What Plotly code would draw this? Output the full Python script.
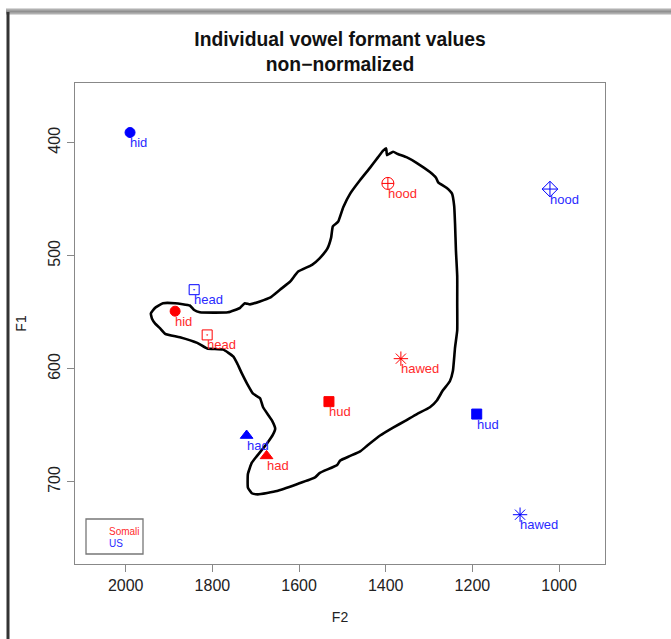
import plotly.graph_objects as go

# ---- data ----
vowels = ["hid", "head", "had", "hud", "hawed", "hood"]
somali_f2 = [1886, 1812, 1675, 1531, 1365, 1395]
somali_f1 = [549, 570, 677, 629, 591, 436]
us_f2 = [1990, 1842, 1721, 1190, 1090, 1021]
us_f1 = [391, 530, 659, 640, 729, 441]

somali_symbols = ["circle", "square-open-dot", "triangle-up", "square", "asterisk-open", "circle-cross-open"]
us_symbols = ["circle", "square-open-dot", "triangle-up", "square", "asterisk-open", "diamond-cross-open"]
symbol_sizes = [10, 10, 11, 10, 12, 12]

# hand-drawn region outline (F2, F1)
outline_f2 = [1942, 1932, 1914, 1886, 1852, 1842, 1829, 1764, 1736, 1725, 1713, 1667, 1644, 1621,
              1602, 1570, 1552, 1535, 1526, 1522, 1510, 1498, 1482, 1459, 1436, 1418, 1406, 1399,
              1397, 1383, 1372, 1351, 1328, 1298, 1284, 1279, 1259, 1247, 1242, 1240, 1238, 1235,
              1235, 1235, 1240, 1245, 1252, 1268, 1282, 1298, 1328, 1355, 1383, 1413, 1443, 1459,
              1482, 1505, 1512, 1552, 1563, 1605, 1651, 1695, 1709, 1718, 1718, 1709, 1697, 1674,
              1660, 1655, 1662, 1683, 1690, 1706, 1720, 1732, 1743, 1752, 1775, 1812, 1835, 1875,
              1909, 1921, 1932, 1939, 1942]
outline_f1 = [551, 546, 542, 542, 544, 548, 550, 550, 546, 542, 543, 537, 530, 523,
              514, 508, 502, 494, 484, 474, 470, 457, 445, 433, 422, 413, 407, 405,
              411, 408, 410, 413, 418, 426, 431, 435, 440, 445, 456, 472, 495, 518,
              542, 566, 581, 602, 611, 619, 628, 634, 640, 646, 652, 659, 668, 673,
              677, 681, 685, 692, 696, 702, 708, 711, 710, 705, 693, 683, 677, 666,
              658, 653, 646, 634, 626, 622, 613, 604, 595, 589, 583, 582, 577, 572,
              569, 564, 560, 556, 551]

x_ticks = [2000, 1800, 1600, 1400, 1200, 1000]
y_ticks = [400, 500, 600, 700]
x_range = [2117, 894]
y_range = [772.6, 347.2]

groups = ["Somali", "US"]
group_colors = ["#ff0000", "#0000ff"]
label_colors = ["#ff2a2a", "#2a2aff"]

FONT = "Liberation Sans, Arial, sans-serif"

fig = go.Figure()

fig.add_trace(go.Scatter(
    x=outline_f2, y=outline_f1, mode="lines",
    line=dict(color="black", width=2.6, shape="spline", smoothing=0.4),
    hoverinfo="skip", showlegend=False))

for name, f2, f1, syms, col, lcol in [("Somali", somali_f2, somali_f1, somali_symbols, group_colors[0], label_colors[0]),
                                      ("US", us_f2, us_f1, us_symbols, group_colors[1], label_colors[1])]:
    fig.add_trace(go.Scatter(
        x=f2, y=f1, mode="markers", name=name, showlegend=False,
        marker=dict(symbol=syms, size=symbol_sizes, color=col, opacity=1,
                    line=dict(color=col, width=1))))
    for v, xx, yy in zip(vowels, f2, f1):
        fig.add_annotation(x=xx, y=yy, xref="x", yref="y", text=v, showarrow=False,
                           xanchor="left", yanchor="middle", xshift=-2, yshift=-10,
                           font=dict(family=FONT, size=13, color=lcol))

# legend box (R style, text only)
fig.add_shape(type="rect", xref="paper", yref="paper",
              x0=(86 - 75) / 530, x1=(143 - 75) / 530,
              y0=(564 - 554) / 481, y1=(564 - 519) / 481,
              line=dict(color="#777777", width=1.3), fillcolor="rgba(0,0,0,0)")
for i, (g, col) in enumerate(zip(groups, label_colors)):
    fig.add_annotation(x=(107 - 75) / 530, y=(564 - (531 + 12 * i)) / 481,
                       xref="paper", yref="paper", text=g, showarrow=False,
                       xanchor="left", yanchor="middle",
                       font=dict(family=FONT, size=10, color=col))

# window frame decorations
fig.add_shape(type="rect", xref="paper", yref="paper",
              x0=(6 - 75) / 530, x1=(671 - 75) / 530,
              y0=(564 - 14.5) / 481, y1=(564 - 8.5) / 481,
              line=dict(width=0), fillcolor="#b0b0b0", layer="above")
fig.add_shape(type="rect", xref="paper", yref="paper",
              x0=(6 - 75) / 530, x1=(671 - 75) / 530,
              y0=(564 - 12.5) / 481, y1=(564 - 10.5) / 481,
              line=dict(width=0), fillcolor="#909090", layer="above")
fig.add_shape(type="rect", xref="paper", yref="paper",
              x0=(6.5 - 75) / 530, x1=(9.5 - 75) / 530,
              y0=(564 - 640) / 481, y1=(564 - 12) / 481,
              line=dict(width=0), fillcolor="#333333", layer="above")

axis_common = dict(showgrid=False, zeroline=False, showline=True, mirror=True,
                   linecolor="#888888", linewidth=1.3, ticks="outside", ticklen=7,
                   tickcolor="#888888", tickwidth=1.3,
                   tickfont=dict(family=FONT, size=16, color="#222222"),
                   title_font=dict(family=FONT, size=14, color="#222222"))

fig.update_xaxes(range=x_range, tickvals=x_ticks, title_text="F2", title_standoff=18,
                 **axis_common)
fig.update_yaxes(range=y_range, tickvals=y_ticks, tickangle=-90, title_text="F1",
                 title_standoff=16, **axis_common)

fig.update_layout(
    width=671, height=639,
    margin=dict(l=75, r=66, t=83, b=75),
    paper_bgcolor="white", plot_bgcolor="white",
    title=dict(text="<b>Individual vowel formant values<br>non\u2212normalized</b>",
               x=340 / 671, xanchor="center", y=1 - 46 / 639, yanchor="middle",
               font=dict(family=FONT, size=19.3, color="#111111")),
)

fig.write_html("out.html")
